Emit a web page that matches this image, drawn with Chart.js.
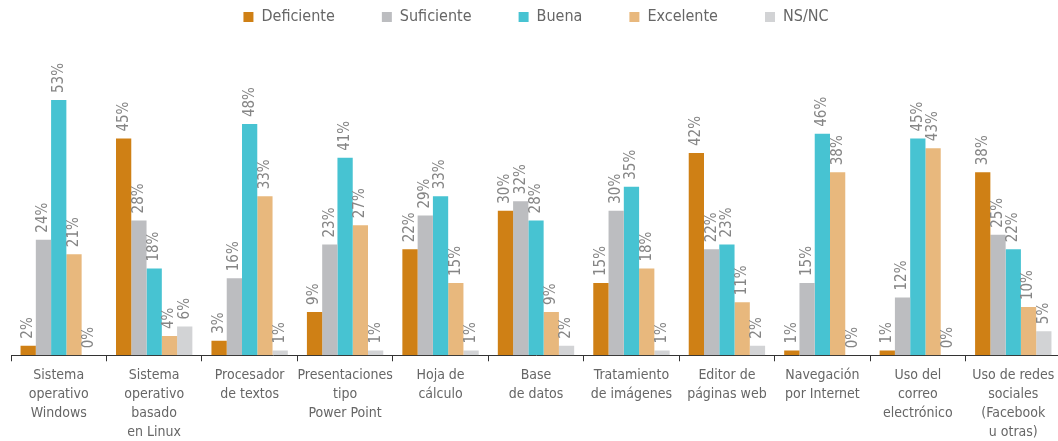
<!DOCTYPE html>
<html>
<head>
<meta charset="utf-8">
<script src="https://cdn.jsdelivr.net/npm/chart.js@4.4.0/dist/chart.umd.min.js"></script>
<style>
  html, body { margin: 0; padding: 0; background: #fff; overflow: hidden; }
  #wrap { width: 1062px; height: 441px; position: relative; }
</style>
</head>
<body>
<div id="wrap"><canvas id="myChart"></canvas></div>
<script>
const categorias = [
    ["Sistema", "operativo", "Windows"],
    ["Sistema", "operativo", "basado", "en Linux"],
    ["Procesador", "de textos"],
    ["Presentaciones", "tipo", "Power Point"],
    ["Hoja de", "cálculo"],
    ["Base", "de datos"],
    ["Tratamiento", "de imágenes"],
    ["Editor de", "páginas web"],
    ["Navegación", "por Internet"],
    ["Uso del", "correo", "electrónico"],
    ["Uso de redes", "sociales", "(Facebook", "u otras)"]
];
const deficiente = [2, 45, 3, 9, 22, 30, 15, 42, 1, 1, 38];
const suficiente = [24, 28, 16, 23, 29, 32, 30, 22, 15, 12, 25];
const buena      = [53, 18, 48, 41, 33, 28, 35, 23, 46, 45, 22];
const excelente  = [21, 4, 33, 27, 15, 9, 18, 11, 38, 43, 10];
const nsnc       = [0, 6, 1, 1, 1, 2, 1, 2, 0, 0, 5];

const fuente = "'DejaVu Sans Condensed', 'Liberation Sans', sans-serif";

// etiquetas giradas encima de cada barra
const etiquetas = {
    id: 'etiquetas',
    afterDatasetsDraw(chart) {
        const c = chart.ctx;
        c.save();
        c.font = "15px " + fuente;
        c.fillStyle = "#858585";
        c.textAlign = "left";
        c.textBaseline = "middle";
        chart.data.datasets.forEach(function (ds, i) {
            const meta = chart.getDatasetMeta(i);
            meta.data.forEach(function (bar, j) {
                c.save();
                c.translate(bar.x, bar.y - 7);
                c.rotate(-Math.PI / 2);
                c.fillText(ds.data[j] + "%", 0, 0);
                c.restore();
            });
        });
        c.restore();
    }
};

const ctx = document.getElementById('myChart');
const myChart = new Chart(ctx, {
    type: 'bar',
    data: {
        labels: categorias,
        datasets: [
            { label: 'Deficiente', data: deficiente, backgroundColor: '#CF8015' },
            { label: 'Suficiente', data: suficiente, backgroundColor: '#BCBDC0' },
            { label: 'Buena', data: buena, backgroundColor: '#47C3D2' },
            { label: 'Excelente', data: excelente, backgroundColor: '#E8B87D' },
            { label: 'NS/NC', data: nsnc, backgroundColor: '#D2D3D5' }
        ]
    },
    options: {
        responsive: true,
        maintainAspectRatio: false,
        animation: false,
        layout: { padding: { left: 11, right: 1, top: -38, bottom: -5 } },
        datasets: {
            bar: { barPercentage: 1, categoryPercentage: 0.8 }
        },
        plugins: {
            tooltip: { enabled: false },
            legend: {
                position: 'top',
                labels: {
                    boxWidth: 10,
                    boxHeight: 10,
                    padding: 47,
                    color: '#666',
                    font: { family: fuente, size: 16 }
                }
            }
        },
        scales: {
            y: {
                display: false,
                min: 0,
                max: 66.5
            },
            x: {
                grid: {
                    offset: true,
                    drawOnChartArea: false,
                    tickLength: 6,
                    color: '#333'
                },
                border: { color: '#333', width: 1 },
                ticks: {
                    color: '#666',
                    maxRotation: 0,
                    autoSkip: false,
                    padding: 4,
                    font: { family: fuente, size: 14, lineHeight: 1.37 }
                }
            }
        }
    },
    plugins: [etiquetas]
});
</script>
</body>
</html>
